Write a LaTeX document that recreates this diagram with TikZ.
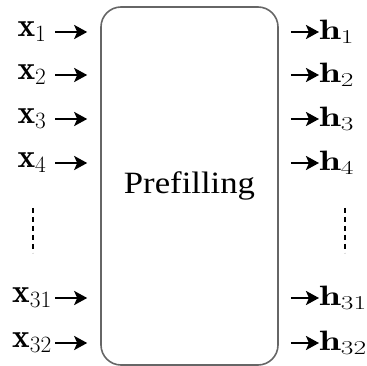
\RequirePackage{fix-cm}
\documentclass[tikz,border=0pt]{standalone}
\usepackage{fontspec}
\usepackage{amsmath}
\usepackage{graphicx}
\newfontfamily\boxfont{Liberation Serif}
\usetikzlibrary{arrows.meta}
\newcommand{\wideh}[1]{\scalebox{1.4}[1]{#1}}
\newcommand{\bigx}[1]{\scalebox{1.15}{#1}}
\begin{document}
\begin{tikzpicture}[x=1pt,y=-1pt,
  inlabel/.style={font=\fontsize{29}{35}\selectfont, inner sep=1pt, minimum width=46pt, anchor=center},
  outlabel/.style={font=\fontsize{28}{34}\selectfont, inner sep=0pt, anchor=west},
  arr/.style={line width=2.4pt, -{Stealth[length=13pt,width=14pt,inset=3pt]}},
  dotline/.style={line width=2.2pt, dash pattern=on 5pt off 4pt},
  mainbox/.style={draw=black!60, line width=1.6pt, rounded corners=20pt, minimum width=177pt, minimum height=358pt, inner sep=0pt}
]
\useasboundingbox (0,0) rectangle (367,366);
\node[mainbox] (box) at (189.5,186) {};
\node (title) at (189.5,186) {\boxfont\fontsize{31}{37}\selectfont\scalebox{1.12}[1]{Prefilling}};

\foreach \n/\y in {1/32,2/75,3/119,4/163,31/298,32/343}{
  \node[inlabel] (x\n) at (32,\y) {\bigx{$\mathbf{x}_{\n}$}};
  \node[outlabel] (h\n) at (319,\y) {\wideh{$\mathbf{h}_{\n}$}};
  \draw[arr, shorten >=13pt] (x\n.east) -- (box.west |- x\n.east);
  \draw[arr, shorten <=12pt] (box.east |- h\n.west) -- (h\n.west);
}
\draw[dotline] (33,208) -- (33,253);
\draw[dotline] (345,208) -- (345,253);
\end{tikzpicture}
\end{document}
